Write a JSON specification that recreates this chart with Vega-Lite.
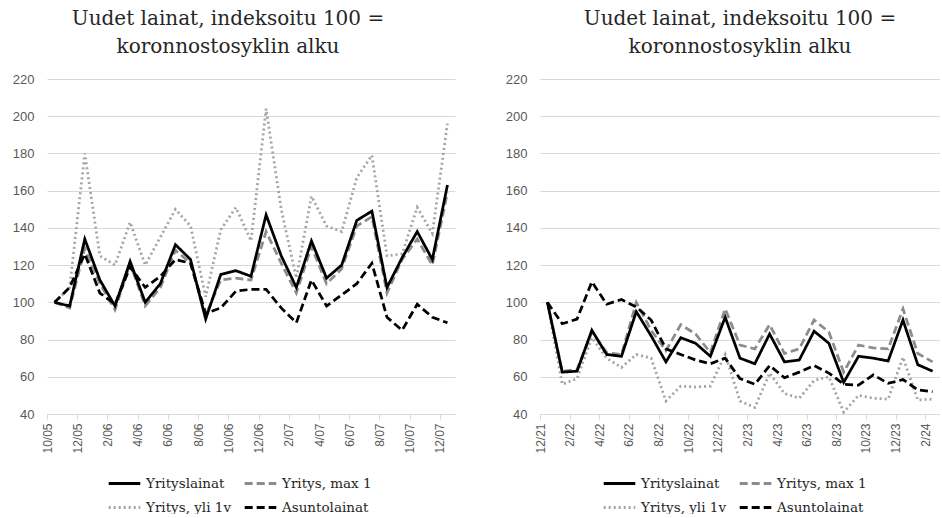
{
  "$schema": "https://vega.github.io/schema/vega-lite/v6.json",
  "padding": {"left": 7, "top": 9, "right": 0, "bottom": 0},
  "background": "white",
  "datasets": {
    "left": [
      {"s": "Yritys, yli 1v", "m": "10/05", "v": 100}, {"s": "Yritys, yli 1v", "m": "11/05", "v": 108}, {"s": "Yritys, yli 1v", "m": "12/05", "v": 180}, {"s": "Yritys, yli 1v", "m": "1/06", "v": 125}, {"s": "Yritys, yli 1v", "m": "2/06", "v": 120}, {"s": "Yritys, yli 1v", "m": "3/06", "v": 143}, {"s": "Yritys, yli 1v", "m": "4/06", "v": 120}, {"s": "Yritys, yli 1v", "m": "5/06", "v": 135}, {"s": "Yritys, yli 1v", "m": "6/06", "v": 150}, {"s": "Yritys, yli 1v", "m": "7/06", "v": 141}, {"s": "Yritys, yli 1v", "m": "8/06", "v": 103}, {"s": "Yritys, yli 1v", "m": "9/06", "v": 139}, {"s": "Yritys, yli 1v", "m": "10/06", "v": 151}, {"s": "Yritys, yli 1v", "m": "11/06", "v": 133}, {"s": "Yritys, yli 1v", "m": "12/06", "v": 204}, {"s": "Yritys, yli 1v", "m": "1/07", "v": 150}, {"s": "Yritys, yli 1v", "m": "2/07", "v": 113}, {"s": "Yritys, yli 1v", "m": "3/07", "v": 157}, {"s": "Yritys, yli 1v", "m": "4/07", "v": 141}, {"s": "Yritys, yli 1v", "m": "5/07", "v": 138}, {"s": "Yritys, yli 1v", "m": "6/07", "v": 167}, {"s": "Yritys, yli 1v", "m": "7/07", "v": 179}, {"s": "Yritys, yli 1v", "m": "8/07", "v": 125}, {"s": "Yritys, yli 1v", "m": "9/07", "v": 126}, {"s": "Yritys, yli 1v", "m": "10/07", "v": 151}, {"s": "Yritys, yli 1v", "m": "11/07", "v": 137}, {"s": "Yritys, yli 1v", "m": "12/07", "v": 196},
      {"s": "Yritys, max 1", "m": "10/05", "v": 100}, {"s": "Yritys, max 1", "m": "11/05", "v": 97}, {"s": "Yritys, max 1", "m": "12/05", "v": 129}, {"s": "Yritys, max 1", "m": "1/06", "v": 110}, {"s": "Yritys, max 1", "m": "2/06", "v": 96}, {"s": "Yritys, max 1", "m": "3/06", "v": 121}, {"s": "Yritys, max 1", "m": "4/06", "v": 98}, {"s": "Yritys, max 1", "m": "5/06", "v": 108}, {"s": "Yritys, max 1", "m": "6/06", "v": 128}, {"s": "Yritys, max 1", "m": "7/06", "v": 121}, {"s": "Yritys, max 1", "m": "8/06", "v": 93}, {"s": "Yritys, max 1", "m": "9/06", "v": 112}, {"s": "Yritys, max 1", "m": "10/06", "v": 113}, {"s": "Yritys, max 1", "m": "11/06", "v": 112}, {"s": "Yritys, max 1", "m": "12/06", "v": 138}, {"s": "Yritys, max 1", "m": "1/07", "v": 121}, {"s": "Yritys, max 1", "m": "2/07", "v": 105}, {"s": "Yritys, max 1", "m": "3/07", "v": 130}, {"s": "Yritys, max 1", "m": "4/07", "v": 110}, {"s": "Yritys, max 1", "m": "5/07", "v": 118}, {"s": "Yritys, max 1", "m": "6/07", "v": 141}, {"s": "Yritys, max 1", "m": "7/07", "v": 146}, {"s": "Yritys, max 1", "m": "8/07", "v": 105}, {"s": "Yritys, max 1", "m": "9/07", "v": 123}, {"s": "Yritys, max 1", "m": "10/07", "v": 134}, {"s": "Yritys, max 1", "m": "11/07", "v": 120}, {"s": "Yritys, max 1", "m": "12/07", "v": 159},
      {"s": "Yrityslainat", "m": "10/05", "v": 100}, {"s": "Yrityslainat", "m": "11/05", "v": 98}, {"s": "Yrityslainat", "m": "12/05", "v": 134}, {"s": "Yrityslainat", "m": "1/06", "v": 112}, {"s": "Yrityslainat", "m": "2/06", "v": 98}, {"s": "Yrityslainat", "m": "3/06", "v": 122}, {"s": "Yrityslainat", "m": "4/06", "v": 100}, {"s": "Yrityslainat", "m": "5/06", "v": 110}, {"s": "Yrityslainat", "m": "6/06", "v": 131}, {"s": "Yrityslainat", "m": "7/06", "v": 123}, {"s": "Yrityslainat", "m": "8/06", "v": 91}, {"s": "Yrityslainat", "m": "9/06", "v": 115}, {"s": "Yrityslainat", "m": "10/06", "v": 117}, {"s": "Yrityslainat", "m": "11/06", "v": 114}, {"s": "Yrityslainat", "m": "12/06", "v": 147}, {"s": "Yrityslainat", "m": "1/07", "v": 125}, {"s": "Yrityslainat", "m": "2/07", "v": 108}, {"s": "Yrityslainat", "m": "3/07", "v": 133}, {"s": "Yrityslainat", "m": "4/07", "v": 113}, {"s": "Yrityslainat", "m": "5/07", "v": 120}, {"s": "Yrityslainat", "m": "6/07", "v": 144}, {"s": "Yrityslainat", "m": "7/07", "v": 149}, {"s": "Yrityslainat", "m": "8/07", "v": 108}, {"s": "Yrityslainat", "m": "9/07", "v": 124}, {"s": "Yrityslainat", "m": "10/07", "v": 138}, {"s": "Yrityslainat", "m": "11/07", "v": 123}, {"s": "Yrityslainat", "m": "12/07", "v": 163},
      {"s": "Asuntolainat", "m": "10/05", "v": 100}, {"s": "Asuntolainat", "m": "11/05", "v": 108}, {"s": "Asuntolainat", "m": "12/05", "v": 126}, {"s": "Asuntolainat", "m": "1/06", "v": 105}, {"s": "Asuntolainat", "m": "2/06", "v": 99}, {"s": "Asuntolainat", "m": "3/06", "v": 119}, {"s": "Asuntolainat", "m": "4/06", "v": 108}, {"s": "Asuntolainat", "m": "5/06", "v": 114}, {"s": "Asuntolainat", "m": "6/06", "v": 123}, {"s": "Asuntolainat", "m": "7/06", "v": 121}, {"s": "Asuntolainat", "m": "8/06", "v": 94}, {"s": "Asuntolainat", "m": "9/06", "v": 97}, {"s": "Asuntolainat", "m": "10/06", "v": 106}, {"s": "Asuntolainat", "m": "11/06", "v": 107}, {"s": "Asuntolainat", "m": "12/06", "v": 107}, {"s": "Asuntolainat", "m": "1/07", "v": 97}, {"s": "Asuntolainat", "m": "2/07", "v": 89}, {"s": "Asuntolainat", "m": "3/07", "v": 112}, {"s": "Asuntolainat", "m": "4/07", "v": 98}, {"s": "Asuntolainat", "m": "5/07", "v": 104}, {"s": "Asuntolainat", "m": "6/07", "v": 110}, {"s": "Asuntolainat", "m": "7/07", "v": 121}, {"s": "Asuntolainat", "m": "8/07", "v": 92}, {"s": "Asuntolainat", "m": "9/07", "v": 85}, {"s": "Asuntolainat", "m": "10/07", "v": 99}, {"s": "Asuntolainat", "m": "11/07", "v": 92}, {"s": "Asuntolainat", "m": "12/07", "v": 89}
    ],
    "right": [
      {"s": "Yritys, yli 1v", "m": "12/21", "v": 100}, {"s": "Yritys, yli 1v", "m": "1/22", "v": 56}, {"s": "Yritys, yli 1v", "m": "2/22", "v": 59}, {"s": "Yritys, yli 1v", "m": "3/22", "v": 81}, {"s": "Yritys, yli 1v", "m": "4/22", "v": 70}, {"s": "Yritys, yli 1v", "m": "5/22", "v": 65}, {"s": "Yritys, yli 1v", "m": "6/22", "v": 72}, {"s": "Yritys, yli 1v", "m": "7/22", "v": 70}, {"s": "Yritys, yli 1v", "m": "8/22", "v": 47}, {"s": "Yritys, yli 1v", "m": "9/22", "v": 55}, {"s": "Yritys, yli 1v", "m": "10/22", "v": 54.5}, {"s": "Yritys, yli 1v", "m": "11/22", "v": 55}, {"s": "Yritys, yli 1v", "m": "12/22", "v": 72}, {"s": "Yritys, yli 1v", "m": "1/23", "v": 47}, {"s": "Yritys, yli 1v", "m": "2/23", "v": 43.5}, {"s": "Yritys, yli 1v", "m": "3/23", "v": 62}, {"s": "Yritys, yli 1v", "m": "4/23", "v": 51}, {"s": "Yritys, yli 1v", "m": "5/23", "v": 48.5}, {"s": "Yritys, yli 1v", "m": "6/23", "v": 58}, {"s": "Yritys, yli 1v", "m": "7/23", "v": 60}, {"s": "Yritys, yli 1v", "m": "8/23", "v": 41}, {"s": "Yritys, yli 1v", "m": "9/23", "v": 50}, {"s": "Yritys, yli 1v", "m": "10/23", "v": 48.5}, {"s": "Yritys, yli 1v", "m": "11/23", "v": 48}, {"s": "Yritys, yli 1v", "m": "12/23", "v": 70.5}, {"s": "Yritys, yli 1v", "m": "1/24", "v": 47.5}, {"s": "Yritys, yli 1v", "m": "2/24", "v": 48},
      {"s": "Yritys, max 1", "m": "12/21", "v": 100}, {"s": "Yritys, max 1", "m": "1/22", "v": 63}, {"s": "Yritys, max 1", "m": "2/22", "v": 64}, {"s": "Yritys, max 1", "m": "3/22", "v": 84}, {"s": "Yritys, max 1", "m": "4/22", "v": 73}, {"s": "Yritys, max 1", "m": "5/22", "v": 72}, {"s": "Yritys, max 1", "m": "6/22", "v": 100}, {"s": "Yritys, max 1", "m": "7/22", "v": 85}, {"s": "Yritys, max 1", "m": "8/22", "v": 74}, {"s": "Yritys, max 1", "m": "9/22", "v": 88}, {"s": "Yritys, max 1", "m": "10/22", "v": 83}, {"s": "Yritys, max 1", "m": "11/22", "v": 73}, {"s": "Yritys, max 1", "m": "12/22", "v": 96.5}, {"s": "Yritys, max 1", "m": "1/23", "v": 77}, {"s": "Yritys, max 1", "m": "2/23", "v": 75}, {"s": "Yritys, max 1", "m": "3/23", "v": 88}, {"s": "Yritys, max 1", "m": "4/23", "v": 72.5}, {"s": "Yritys, max 1", "m": "5/23", "v": 75}, {"s": "Yritys, max 1", "m": "6/23", "v": 90.5}, {"s": "Yritys, max 1", "m": "7/23", "v": 84}, {"s": "Yritys, max 1", "m": "8/23", "v": 62.5}, {"s": "Yritys, max 1", "m": "9/23", "v": 77}, {"s": "Yritys, max 1", "m": "10/23", "v": 75.5}, {"s": "Yritys, max 1", "m": "11/23", "v": 75}, {"s": "Yritys, max 1", "m": "12/23", "v": 96.5}, {"s": "Yritys, max 1", "m": "1/24", "v": 72.5}, {"s": "Yritys, max 1", "m": "2/24", "v": 68},
      {"s": "Yrityslainat", "m": "12/21", "v": 100}, {"s": "Yrityslainat", "m": "1/22", "v": 62.5}, {"s": "Yrityslainat", "m": "2/22", "v": 63}, {"s": "Yrityslainat", "m": "3/22", "v": 85}, {"s": "Yrityslainat", "m": "4/22", "v": 72}, {"s": "Yrityslainat", "m": "5/22", "v": 71}, {"s": "Yrityslainat", "m": "6/22", "v": 95}, {"s": "Yrityslainat", "m": "7/22", "v": 82}, {"s": "Yrityslainat", "m": "8/22", "v": 68}, {"s": "Yrityslainat", "m": "9/22", "v": 81}, {"s": "Yrityslainat", "m": "10/22", "v": 78}, {"s": "Yrityslainat", "m": "11/22", "v": 71}, {"s": "Yrityslainat", "m": "12/22", "v": 92}, {"s": "Yrityslainat", "m": "1/23", "v": 70}, {"s": "Yrityslainat", "m": "2/23", "v": 67}, {"s": "Yrityslainat", "m": "3/23", "v": 83}, {"s": "Yrityslainat", "m": "4/23", "v": 68}, {"s": "Yrityslainat", "m": "5/23", "v": 69}, {"s": "Yrityslainat", "m": "6/23", "v": 84.5}, {"s": "Yrityslainat", "m": "7/23", "v": 78}, {"s": "Yrityslainat", "m": "8/23", "v": 57}, {"s": "Yrityslainat", "m": "9/23", "v": 71}, {"s": "Yrityslainat", "m": "10/23", "v": 70}, {"s": "Yrityslainat", "m": "11/23", "v": 68.5}, {"s": "Yrityslainat", "m": "12/23", "v": 90.5}, {"s": "Yrityslainat", "m": "1/24", "v": 66.5}, {"s": "Yrityslainat", "m": "2/24", "v": 63},
      {"s": "Asuntolainat", "m": "12/21", "v": 100}, {"s": "Asuntolainat", "m": "1/22", "v": 88.5}, {"s": "Asuntolainat", "m": "2/22", "v": 91}, {"s": "Asuntolainat", "m": "3/22", "v": 111}, {"s": "Asuntolainat", "m": "4/22", "v": 99}, {"s": "Asuntolainat", "m": "5/22", "v": 101.5}, {"s": "Asuntolainat", "m": "6/22", "v": 97.5}, {"s": "Asuntolainat", "m": "7/22", "v": 90.5}, {"s": "Asuntolainat", "m": "8/22", "v": 75}, {"s": "Asuntolainat", "m": "9/22", "v": 72}, {"s": "Asuntolainat", "m": "10/22", "v": 69}, {"s": "Asuntolainat", "m": "11/22", "v": 67}, {"s": "Asuntolainat", "m": "12/22", "v": 70}, {"s": "Asuntolainat", "m": "1/23", "v": 59}, {"s": "Asuntolainat", "m": "2/23", "v": 56}, {"s": "Asuntolainat", "m": "3/23", "v": 66}, {"s": "Asuntolainat", "m": "4/23", "v": 59.5}, {"s": "Asuntolainat", "m": "5/23", "v": 62.5}, {"s": "Asuntolainat", "m": "6/23", "v": 66}, {"s": "Asuntolainat", "m": "7/23", "v": 62}, {"s": "Asuntolainat", "m": "8/23", "v": 56}, {"s": "Asuntolainat", "m": "9/23", "v": 55.5}, {"s": "Asuntolainat", "m": "10/23", "v": 61}, {"s": "Asuntolainat", "m": "11/23", "v": 56.5}, {"s": "Asuntolainat", "m": "12/23", "v": 58.5}, {"s": "Asuntolainat", "m": "1/24", "v": 53}, {"s": "Asuntolainat", "m": "2/24", "v": 52}
    ]
  },
  "config": {
    "view": {"stroke": null},
    "font": "Liberation Sans",
    "title": {"font": "DejaVu Serif", "fontSize": 20, "fontWeight": "normal", "lineHeight": 28, "color": "#262626", "anchor": "middle", "offset": 16},
    "axisY": {"gridColor": "#d9d9d9", "gridWidth": 1, "domain": false, "ticks": false, "labelFont": "Liberation Sans", "labelFontSize": 13, "labelColor": "#595959", "labelPadding": 13, "minExtent": 40, "maxExtent": 40, "title": null},
    "axisX": {"grid": false, "domainColor": "#d9d9d9", "tickColor": "#d9d9d9", "tickSize": 5, "labelFont": "Liberation Sans", "labelFontSize": 12, "labelColor": "#595959", "labelPadding": 4, "labelAngle": -90, "title": null},
    "concat": {"spacing": 45}
  },
  "resolve": {
    "scale": {"color": "independent", "strokeDash": "independent"},
    "legend": {"color": "independent", "strokeDash": "independent"}
  },
  "hconcat": [
    {
      "width": 408,
      "height": 335,
      "title": {"text": ["Uudet lainat, indeksoitu 100 =", "koronnostosyklin alku"], "dx": -23},
      "data": {"name": "left"},
      "mark": {"type": "line", "strokeWidth": 2.75},
      "encoding": {
        "x": {"field": "m", "type": "ordinal", "sort": null, "scale": {"type": "point", "padding": 0.5},
          "axis": {"values": ["10/05", "12/05", "2/06", "4/06", "6/06", "8/06", "10/06", "12/06", "2/07", "4/07", "6/07", "8/07", "10/07", "12/07"], "tickOffset": -7.55}},
        "y": {"field": "v", "type": "quantitative", "scale": {"domain": [40, 220], "nice": false, "zero": false},
          "axis": {"values": [40, 60, 80, 100, 120, 140, 160, 180, 200, 220]}},
        "color": {"field": "s", "type": "nominal",
          "scale": {"domain": ["Yrityslainat", "Yritys, max 1", "Yritys, yli 1v", "Asuntolainat"], "range": ["#000000", "#8c8c8c", "#a3a3a3", "#000000"]},
          "legend": {"orient": "none", "legendX": 60, "legendY": 387, "direction": "horizontal", "title": null, "columns": 2, "symbolType": "stroke", "symbolSize": 1000, "symbolStrokeWidth": 3, "labelFont": "DejaVu Serif", "labelFontSize": 13.5, "labelColor": "#262626", "columnPadding": 6, "rowPadding": -8, "labelOffset": 4}},
        "strokeDash": {"field": "s", "type": "nominal",
          "scale": {"domain": ["Yrityslainat", "Yritys, max 1", "Yritys, yli 1v", "Asuntolainat"], "range": [[1, 0], [8, 4], [2, 3], [8, 4]]},
          "legend": {"orient": "none", "legendX": 60, "legendY": 387, "direction": "horizontal", "title": null, "columns": 2, "symbolType": "stroke", "symbolSize": 1000, "symbolStrokeWidth": 3, "labelFont": "DejaVu Serif", "labelFontSize": 13.5, "labelColor": "#262626", "columnPadding": 6, "rowPadding": -8, "labelOffset": 4}}
      }
    },
    {
      "width": 400,
      "height": 335,
      "title": {"text": ["Uudet lainat, indeksoitu 100 =", "koronnostosyklin alku"]},
      "data": {"name": "right"},
      "mark": {"type": "line", "strokeWidth": 2.75},
      "encoding": {
        "x": {"field": "m", "type": "ordinal", "sort": null, "scale": {"type": "point", "padding": 0.5},
          "axis": {"values": ["12/21", "2/22", "4/22", "6/22", "8/22", "10/22", "12/22", "2/23", "4/23", "6/23", "8/23", "10/23", "12/23", "2/24"], "tickOffset": -7.4}},
        "y": {"field": "v", "type": "quantitative", "scale": {"domain": [40, 220], "nice": false, "zero": false},
          "axis": {"values": [40, 60, 80, 100, 120, 140, 160, 180, 200, 220]}},
        "color": {"field": "s", "type": "nominal",
          "scale": {"domain": ["Yrityslainat", "Yritys, max 1", "Yritys, yli 1v", "Asuntolainat"], "range": ["#000000", "#8c8c8c", "#a3a3a3", "#000000"]},
          "legend": {"orient": "none", "legendX": 62, "legendY": 387, "direction": "horizontal", "title": null, "columns": 2, "symbolType": "stroke", "symbolSize": 1000, "symbolStrokeWidth": 3, "labelFont": "DejaVu Serif", "labelFontSize": 13.5, "labelColor": "#262626", "columnPadding": 6, "rowPadding": -8, "labelOffset": 4}},
        "strokeDash": {"field": "s", "type": "nominal",
          "scale": {"domain": ["Yrityslainat", "Yritys, max 1", "Yritys, yli 1v", "Asuntolainat"], "range": [[1, 0], [8, 4], [2, 3], [8, 4]]},
          "legend": {"orient": "none", "legendX": 62, "legendY": 387, "direction": "horizontal", "title": null, "columns": 2, "symbolType": "stroke", "symbolSize": 1000, "symbolStrokeWidth": 3, "labelFont": "DejaVu Serif", "labelFontSize": 13.5, "labelColor": "#262626", "columnPadding": 6, "rowPadding": -8, "labelOffset": 4}}
      }
    }
  ]
}
